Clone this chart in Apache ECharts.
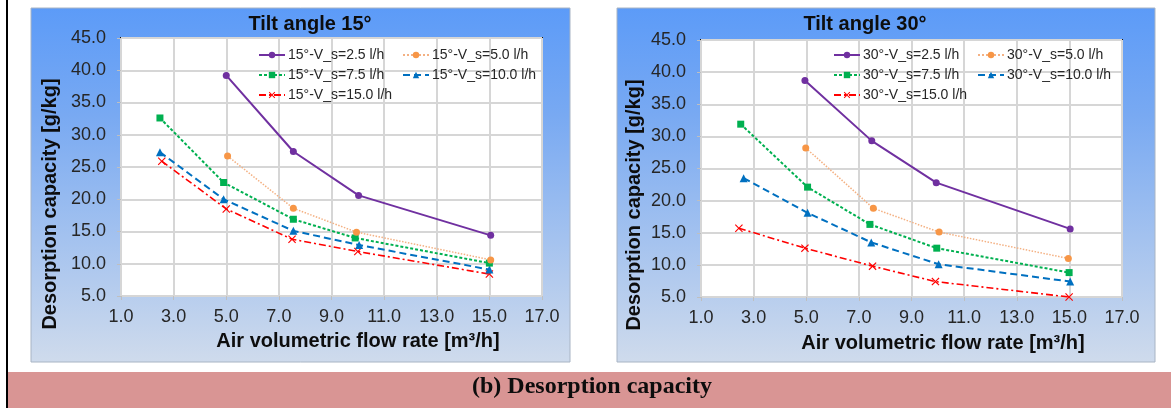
<!DOCTYPE html>
<html>
<head>
<meta charset="utf-8">
<script src="https://cdn.jsdelivr.net/npm/echarts@6/dist/echarts.min.js"></script>
<style>
  html, body { margin: 0; padding: 0; background: #ffffff; }
  #chart { width: 1171px; height: 408px; }
</style>
</head>
<body>
<div id="chart"></div>
<script>
// ---------- data ----------
const chartTitles = ['Tilt angle 15°', 'Tilt angle 30°'];
const xAxisTitle = 'Air volumetric flow rate [m³/h]';
const yAxisTitle = 'Desorption capacity [g/kg]';
const caption = '(b) Desorption capacity';

const names15 = ['15°-V_s=2.5 l/h', '15°-V_s=5.0 l/h', '15°-V_s=7.5 l/h', '15°-V_s=10.0 l/h', '15°-V_s=15.0 l/h'];
const names30 = ['30°-V_s=2.5 l/h', '30°-V_s=5.0 l/h', '30°-V_s=7.5 l/h', '30°-V_s=10.0 l/h', '30°-V_s=15.0 l/h'];

// Tilt 15°: [air flow rate, desorption capacity]
const t15_vs2_5  = [[5.0, 39.2], [7.55, 27.4], [10.03, 20.6], [15.05, 14.4]];
const t15_vs5_0  = [[5.05, 26.7], [7.55, 18.6], [9.95, 14.9], [15.05, 10.6]];
const t15_vs7_5  = [[2.48, 32.6], [4.9, 22.6], [7.55, 16.9], [9.9, 14.0], [15.0, 10.1]];
const t15_vs10_0 = [[2.48, 27.3], [4.9, 20.0], [7.55, 15.1], [10.05, 12.9], [15.0, 9.1]];
const t15_vs15_0 = [[2.55, 25.9], [5.0, 18.5], [7.5, 13.8], [10.0, 11.9], [15.0, 8.4]];

// Tilt 30°
const t30_vs2_5  = [[4.95, 38.7], [7.49, 29.3], [9.94, 22.8], [15.03, 15.6]];
const t30_vs5_0  = [[4.98, 28.2], [7.55, 18.8], [10.05, 15.1], [14.96, 11.0]];
const t30_vs7_5  = [[2.51, 31.9], [5.05, 22.1], [7.42, 16.3], [9.96, 12.6], [14.99, 8.8]];
const t30_vs10_0 = [[2.62, 23.5], [5.05, 18.1], [7.47, 13.5], [10.03, 10.1], [15.03, 7.4]];
const t30_vs15_0 = [[2.44, 15.7], [4.95, 12.6], [7.52, 9.8], [9.91, 7.4], [14.99, 5.0]];

const data15 = [t15_vs2_5, t15_vs5_0, t15_vs7_5, t15_vs10_0, t15_vs15_0];
const data30 = [t30_vs2_5, t30_vs5_0, t30_vs7_5, t30_vs10_0, t30_vs15_0];

// ---------- styles ----------
const X_PATH = 'path://M1,0 L5,4 L9,0 L10,1 L6,5 L10,9 L9,10 L5,6 L1,10 L0,9 L4,5 L0,1 Z';
const styles = [
  { line: '#7030a0', mark: '#7030a0', type: 'solid', width: 2, symbol: 'circle', size: 7 },
  { line: '#f4b183', mark: '#f79646', type: 'dotted', width: 1.5, symbol: 'circle', size: 7 },
  { line: '#00b050', mark: '#00b050', type: [3, 2], width: 2, symbol: 'rect', size: 7 },
  { line: '#0070c0', mark: '#0070c0', type: [7, 4], width: 2, symbol: 'triangle', size: 8 },
  { line: '#ff0000', mark: '#ff0000', type: [7, 3, 2, 3], width: 1.6, symbol: X_PATH, size: 8 }
];

const grids = [
  { left: 121, right: 1171 - 542, top: 38, bottom: 408 - 296 },
  { left: 701, right: 1171 - 1122, top: 40, bottom: 408 - 297 }
];

function makeAxisX(gi) {
  return {
    type: 'value', gridIndex: gi, min: 1, max: 17, interval: 2,
    axisLine: { show: false },
    axisTick: { show: true, length: 4, lineStyle: { color: '#bfbfbf' } },
    axisLabel: { fontSize: 18, color: '#262626', fontFamily: 'Liberation Sans, Arial', margin: 12,
                 formatter: v => v.toFixed(1) },
    splitLine: { show: true, lineStyle: { color: '#d6d6d6', width: 2 } }
  };
}
function makeAxisY(gi) {
  return {
    type: 'value', gridIndex: gi, min: 5, max: 45, interval: 5,
    axisLine: { show: false },
    axisTick: { show: true, length: 4, lineStyle: { color: '#bfbfbf' } },
    axisLabel: { fontSize: 18, color: '#262626', fontFamily: 'Liberation Sans, Arial', margin: 15,
                 formatter: v => v.toFixed(1) },
    splitLine: { show: true, lineStyle: { color: '#d6d6d6', width: 2 } }
  };
}

const series = [];
[[names15, data15, 0], [names30, data30, 1]].forEach(([names, datas, gi]) => {
  names.forEach((n, i) => {
    const s = styles[i];
    series.push({
      name: n, type: 'line', xAxisIndex: gi, yAxisIndex: gi,
      data: datas[i], symbol: s.symbol, symbolSize: s.size, showSymbol: true,
      lineStyle: { color: s.line, type: s.type, width: s.width },
      itemStyle: { color: s.mark },
      z: 10 - i, animation: false
    });
  });
});

// legend positions: [lineStartX, rowCenterY]
const legendPos15 = [[258, 56], [402, 56], [258, 76], [402, 76], [258, 96]];
const legendPos30 = [[833, 56], [977, 56], [833, 76], [977, 76], [833, 96]];
const legends = [];
[[names15, legendPos15], [names30, legendPos30]].forEach(([names, pos]) => {
  names.forEach((n, i) => {
    legends.push({
      data: [n], left: pos[i][0], top: pos[i][1] - 8, padding: 0,
      itemWidth: 26, itemHeight: 8, itemGap: 0, selectedMode: false,
      textStyle: { fontSize: 14, color: '#262626', fontFamily: 'Liberation Sans, Arial', padding: [0, 0, 0, -2] }
    });
  });
});

function panel(x, w) {
  return {
    type: 'rect', z: -10, silent: true,
    shape: { x: x, y: 8, width: w, height: 354 },
    style: {
      fill: new echarts.graphic.LinearGradient(0, 0, 0, 1, [
        { offset: 0, color: '#5c9bf8' },
        { offset: 0.3, color: '#78a9f2' },
        { offset: 1, color: '#cfdbec' }
      ]),
      stroke: '#a8b4c4', lineWidth: 1
    }
  };
}
function boldText(x, y, text, size, rotation, family) {
  return {
    type: 'text', z: 5, silent: true, x: x, y: y, rotation: rotation || 0,
    style: { text: text, fontSize: size, fontWeight: 'bold', fill: '#0d0d0d',
             fontFamily: family || 'Liberation Sans, Arial', align: 'center', verticalAlign: 'middle' }
  };
}

const graphics = [
  { type: 'rect', z: -10, silent: true, shape: { x: 6, y: 0, width: 2, height: 408 }, style: { fill: '#000' } },
  panel(31, 539),
  panel(617, 538),
  { type: 'rect', z: -10, silent: true, shape: { x: 8, y: 372, width: 1163, height: 36 }, style: { fill: '#d99594' } },
  boldText(310, 24, chartTitles[0], 20),
  boldText(865, 24, chartTitles[1], 20),
  boldText(50, 204, yAxisTitle, 20, Math.PI / 2),
  boldText(634, 205, yAxisTitle, 20, Math.PI / 2),
  boldText(358, 341, xAxisTitle, 20),
  boldText(943, 343, xAxisTitle, 20),
  boldText(592, 387, caption, 24, 0, 'Liberation Serif, Times New Roman')
];

const option = {
  animation: false,
  backgroundColor: '#ffffff',
  grid: grids.map(g => Object.assign({ show: true, backgroundColor: '#ffffff', borderColor: '#111', borderWidth: 2 }, g)),
  xAxis: [makeAxisX(0), makeAxisX(1)],
  yAxis: [makeAxisY(0), makeAxisY(1)],
  legend: legends,
  series: series,
  graphic: graphics
};

const chart = echarts.init(document.getElementById('chart'), null, { renderer: 'canvas' });
chart.setOption(option);
</script>
</body>
</html>
